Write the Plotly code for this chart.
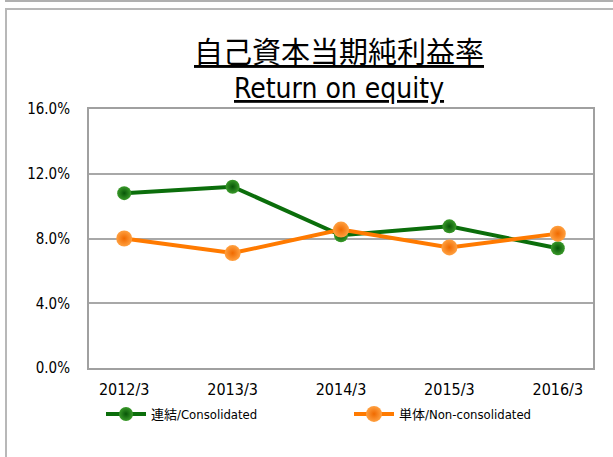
import plotly.graph_objects as go

years = ["2012/3", "2013/3", "2014/3", "2015/3", "2016/3"]
consolidated = [10.8, 11.2, 8.2, 8.75, 7.4]
non_consolidated = [8.0, 7.1, 8.55, 7.45, 8.3]
y_ticks = [0, 4, 8, 12, 16]
y_tick_labels = ["0.0%", "4.0%", "8.0%", "12.0%", "16.0%"]
title_ja = "自己資本当期純利益率"
title_en = "Return on equity"
name_cons = "連結/Consolidated"
name_non = "単体/Non-consolidated"

W, H = 613, 457
L, R, T, B = 89, 20, 109, 89
pw, ph = W - L - R, H - T - B

def px(x):
    return (x - L) / pw

def py(y):
    return (H - B - y) / ph

font_fam = "DejaVu Sans Condensed, Noto Sans CJK JP, sans-serif"

fig = go.Figure()
fig.add_trace(go.Scatter(
    x=years, y=consolidated, name=name_cons, mode="lines+markers",
    line=dict(color="#0b6e0b", width=4),
    marker=dict(size=14, color="#3a9a2a", line=dict(width=0),
                gradient=dict(type="radial", color="#075607")),
    legend="legend",
))
fig.add_trace(go.Scatter(
    x=years, y=non_consolidated, name=name_non, mode="lines+markers",
    line=dict(color="#ff7a00", width=4),
    marker=dict(size=16, color="#ffa040", line=dict(width=0),
                gradient=dict(type="radial", color="#f06a00")),
    legend="legend2",
))

shapes = [
    dict(type="line", xref="paper", yref="paper", x0=px(5), x1=px(640), y0=py(1), y1=py(1),
         line=dict(color="#b0b0b0", width=2), layer="below"),
    dict(type="rect", xref="paper", yref="paper", x0=px(6), x1=px(640), y0=py(470), y1=py(9),
         line=dict(color="#b8b8b8", width=2), layer="below"),
]

leg_common = dict(xanchor="left", yanchor="middle",
                  font=dict(family=font_fam, size=13, color="black"),
                  itemwidth=40, bgcolor="rgba(0,0,0,0)", tracegroupgap=0)

fig.update_layout(
    width=W, height=H,
    margin=dict(l=L, r=R, t=T, b=B, autoexpand=False),
    paper_bgcolor="white", plot_bgcolor="white",
    showlegend=True,
    legend=dict(x=px(101), y=py(414), **leg_common),
    legend2=dict(x=px(349), y=py(414), **leg_common),
    shapes=shapes,
    annotations=[
        dict(text=title_ja, xref="paper", yref="paper", x=px(339), y=py(50),
             showarrow=False, xanchor="center", yanchor="middle",
             font=dict(family="Noto Sans CJK JP", size=29, color="black", lineposition="under")),
        dict(text=title_en, xref="paper", yref="paper", x=px(339), y=py(89),
             showarrow=False, xanchor="center", yanchor="middle",
             font=dict(family=font_fam, size=28, color="black", lineposition="under")),
    ],
    xaxis=dict(type="category", showgrid=False, showline=True, linecolor="#a0a0a0", linewidth=2,
               mirror=True, ticks="", tickfont=dict(family=font_fam, size=16, color="black"),
               ticklabelstandoff=6, fixedrange=True),
    yaxis=dict(range=[0, 16], tickvals=y_ticks, ticktext=y_tick_labels,
               showgrid=True, gridcolor="#a8a8a8", gridwidth=1.5,
               showline=True, linecolor="#a0a0a0", linewidth=2, mirror=True,
               ticks="", tickfont=dict(family=font_fam, size=15, color="black"),
               ticklabelstandoff=14, zeroline=False),
)

fig.write_html("out.html", config={"displayModeBar": False},
               post_script="document.body.style.margin='0';document.body.style.overflow='hidden';")
